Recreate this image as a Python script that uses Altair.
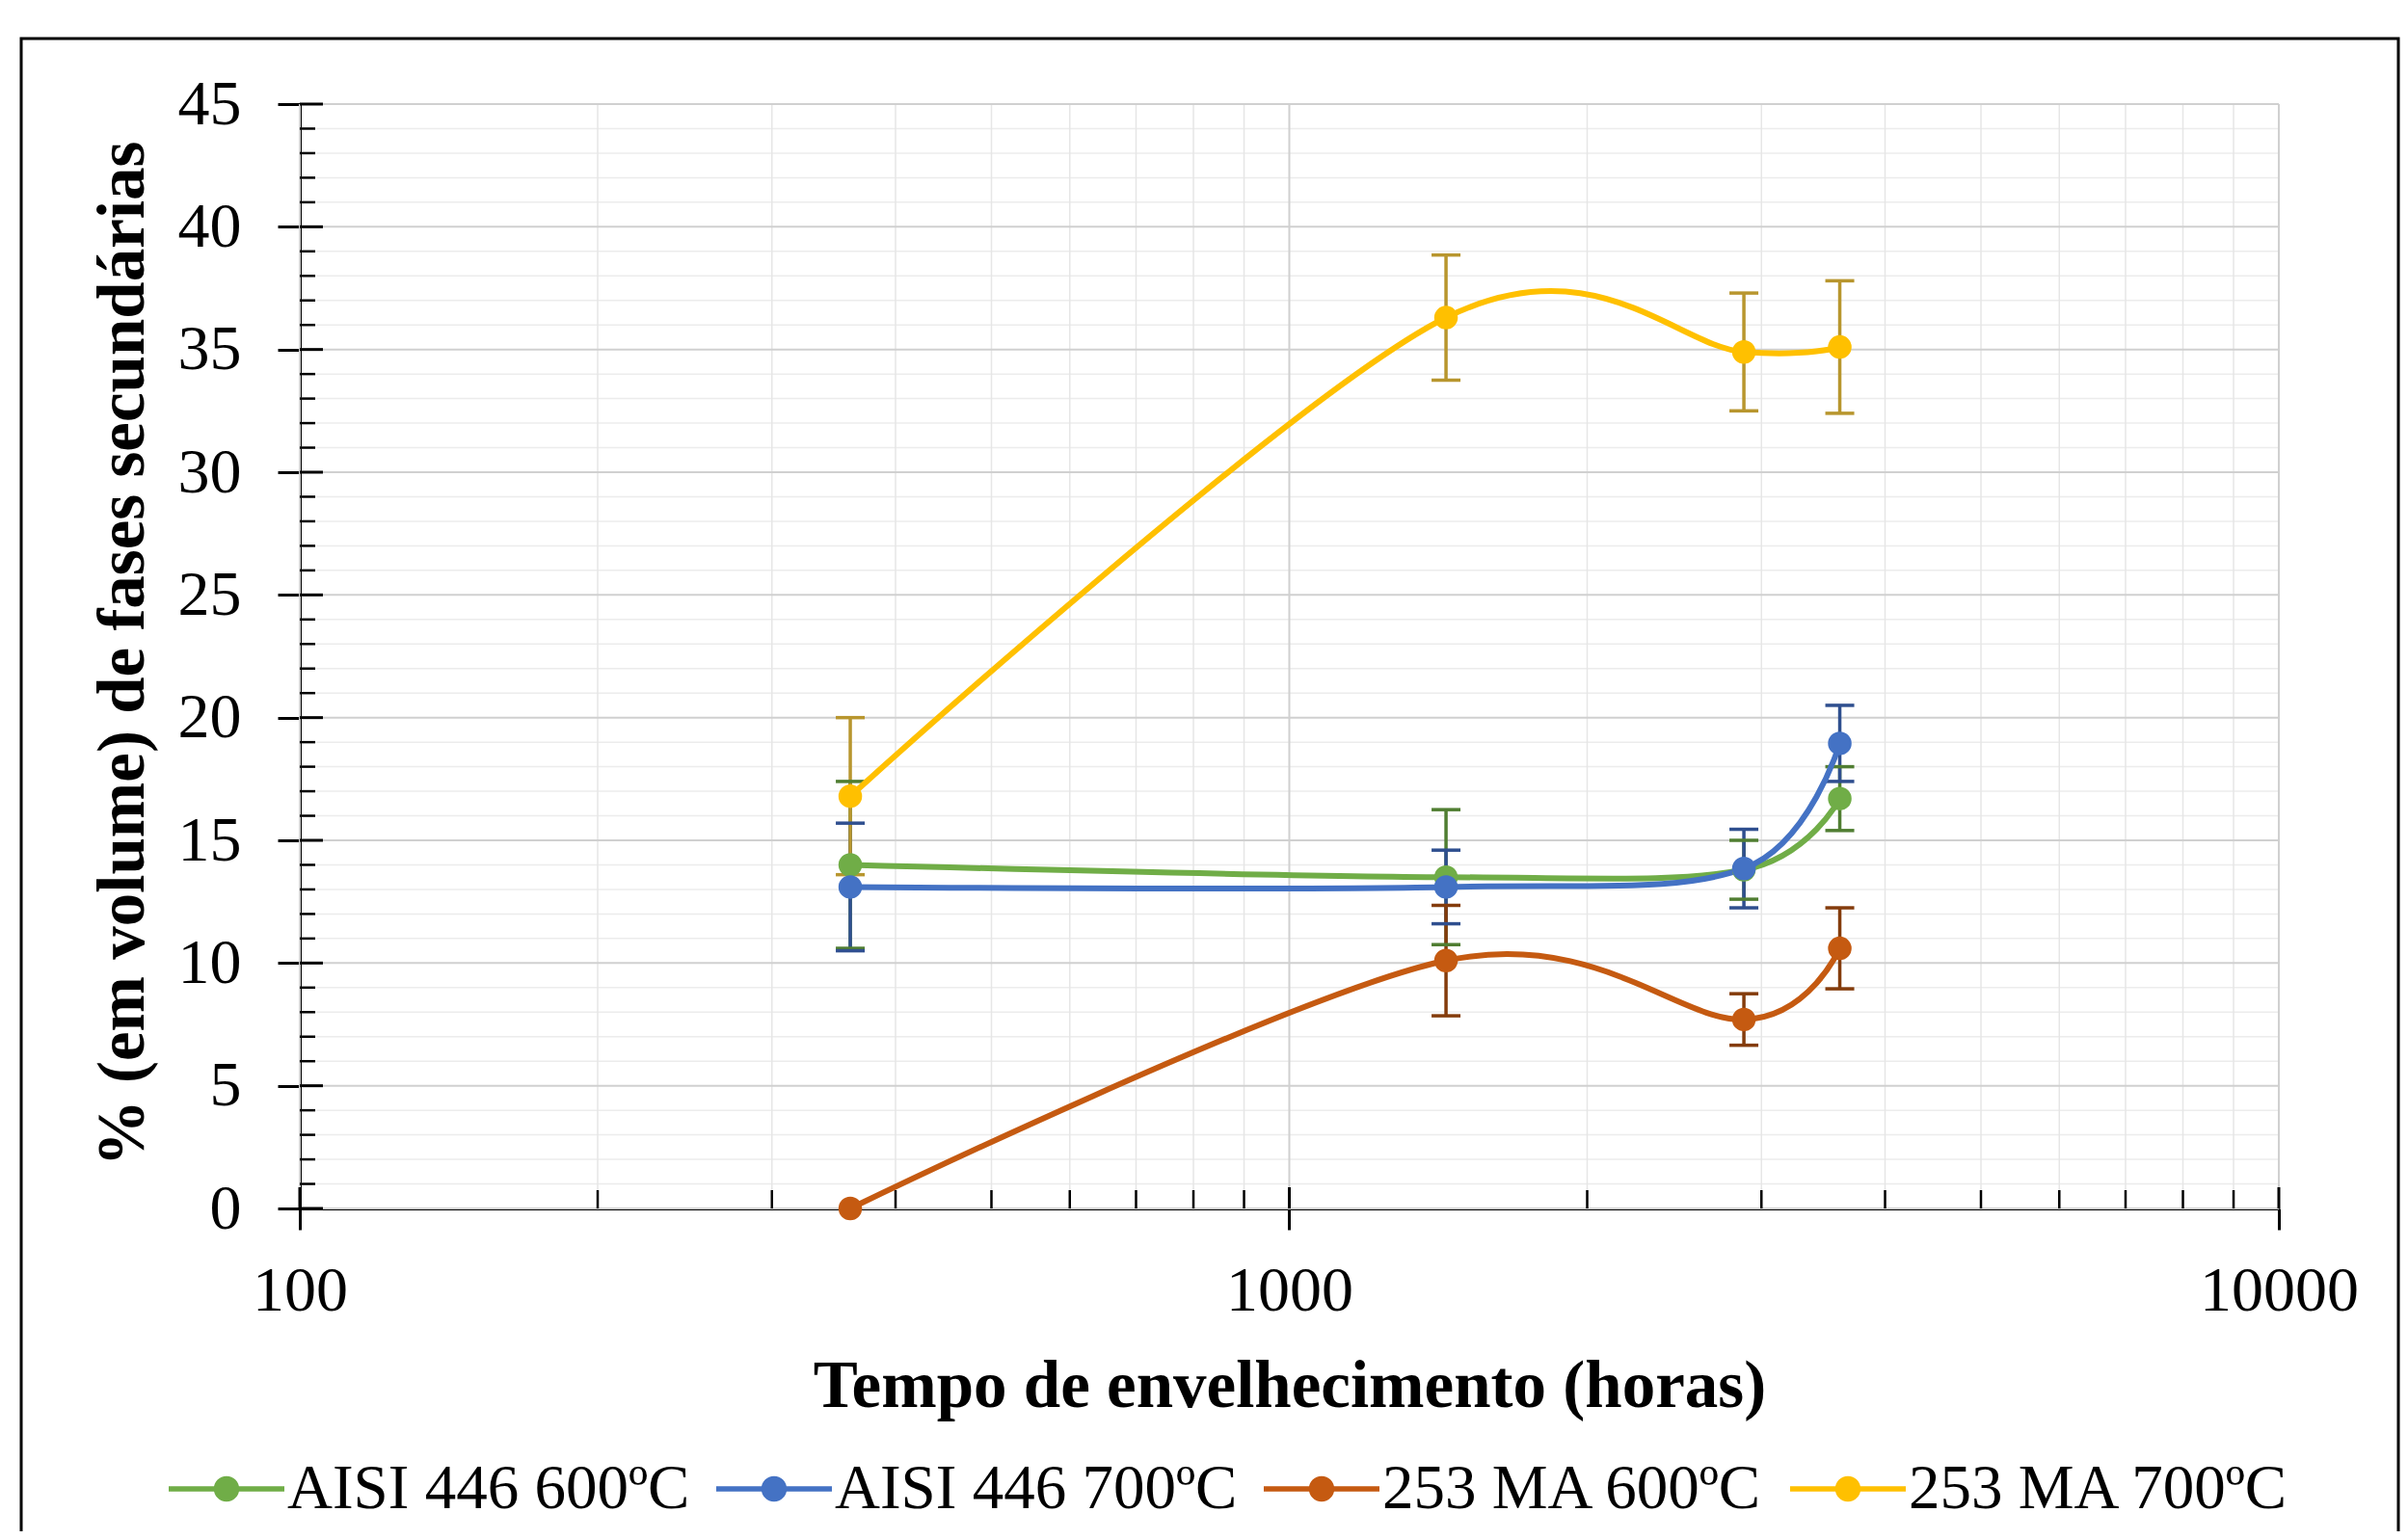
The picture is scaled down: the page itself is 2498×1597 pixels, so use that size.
import altair as alt
import pandas as pd

# ---------------- data ----------------
series = ["AISI 446 600ºC", "AISI 446 700ºC", "253 MA 600ºC", "253 MA 700ºC"]
hours = [360, 1440, 2880, 3600]

aisi446_600 = [14.0, 13.5, 13.8, 16.7]
aisi446_600_err = [3.4, 2.75, 1.2, 1.3]
aisi446_700 = [13.1, 13.1, 13.85, 18.95]
aisi446_700_err = [2.6, 1.5, 1.6, 1.55]
ma253_600 = [0.0, 10.1, 7.7, 10.6]
ma253_600_err = [0.0, 2.25, 1.05, 1.65]
ma253_700 = [16.8, 36.3, 34.9, 35.1]
ma253_700_err = [3.2, 2.55, 2.4, 2.7]

colors = ["#70AD47", "#4472C4", "#C55A11", "#FFC000"]
err_colors = ["#507E32", "#2F4F8F", "#843C0C", "#B8962E"]

x_major = [100, 1000, 10000]
x_minor = [200, 300, 400, 500, 600, 700, 800, 900,
           2000, 3000, 4000, 5000, 6000, 7000, 8000, 9000]
y_major = [0, 5, 10, 15, 20, 25, 30, 35, 40, 45]
y_minor = [v for v in range(1, 45) if v % 5 != 0]

values = [aisi446_600, aisi446_700, ma253_600, ma253_700]
errors = [aisi446_600_err, aisi446_700_err, ma253_600_err, ma253_700_err]

rows = []
for s, vals, errs, ec in zip(series, values, errors, err_colors):
    for h, v, e in zip(hours, vals, errs):
        rows.append({"horas": h, "valor": v, "serie": s, "lo": v - e, "hi": v + e,
                     "err": e, "ecolor": ec})
df = pd.DataFrame(rows)
err_df = df[df["err"] > 0]

# ---------------- layout ----------------
W, H = 2053, 1146
FONT = "Liberation Serif"

xscale = alt.Scale(type="log", domain=[100, 10000])
yscale = alt.Scale(domain=[0, 45], nice=False, zero=False)
cscale = alt.Scale(domain=series, range=colors)

legend_path = ("M-1,-0.045L1,-0.045L1,0.045L-1,0.045Z "
               "M0.22,0A0.22,0.22,0,1,1,-0.22,0A0.22,0.22,0,1,1,0.22,0Z")

x_axis = alt.Axis(
    values=x_major, format="d", title="Tempo de envelhecimento (horas)", grid=False,
    domainColor="black", domainWidth=3, tickColor="black", tickWidth=3, tickSize=22,
    labelPadding=31, labelFont=FONT, labelFontSize=66, labelColor="black",
    labelFlush=False, labelOverlap=False,
    titleFont=FONT, titleFontSize=69, titleFontWeight="bold", titleColor="black",
    titleX=W / 2, titleY=205, titleBaseline="alphabetic", titleAlign="center",
)
y_axis = alt.Axis(
    values=y_major, title="% (em volume) de fases secundárias", grid=False,
    domainColor="black", domainWidth=3, tickColor="black", tickWidth=3, tickSize=23,
    labelPadding=38, labelFont=FONT, labelFontSize=66, labelColor="black",
    labelFlush=False, labelOverlap=False,
    titleFont=FONT, titleFontSize=69, titleFontWeight="bold", titleColor="black",
    titleX=-163, titleY=570, titleAngle=270, titleAlign="center",
    titleBaseline="alphabetic",
)
legend = alt.Legend(
    orient="none", legendX=-136, legendY=1377, direction="horizontal",
    columns=4, title=None, symbolType=legend_path, symbolSize=14400,
    symbolStrokeWidth=0, symbolOpacity=1, labelFont=FONT, labelFontSize=65,
    labelColor="black", labelOffset=3, columnPadding=27, padding=0,
    labelLimit=1000,
)


def X(field):
    return alt.X(field, scale=xscale, axis=x_axis)


def Y(field):
    return alt.Y(field, scale=yscale, axis=y_axis)


border = alt.Chart(pd.DataFrame({"a": [0]})).mark_rect(
    filled=False, stroke="black", strokeWidth=3
).encode(x=alt.value(-289), x2=alt.value(2177), y=alt.value(-68), y2=alt.value(1500))

grid_y_minor = alt.Chart(pd.DataFrame({"y": y_minor})).mark_rule(
    color="#ececec", strokeWidth=1.5
).encode(y=Y("y:Q"))

grid_x_minor = alt.Chart(pd.DataFrame({"x": x_minor})).mark_rule(
    color="#e6e6e6", strokeWidth=1.5
).encode(x=X("x:Q"))

grid_y_major = alt.Chart(pd.DataFrame({"y": y_major})).mark_rule(
    color="#d0d0d0", strokeWidth=2
).encode(y=Y("y:Q"))

grid_x_major = alt.Chart(pd.DataFrame({"x": x_major})).mark_rule(
    color="#d0d0d0", strokeWidth=2
).encode(x=X("x:Q"))

tick_y_major = alt.Chart(pd.DataFrame({"y": y_major})).mark_rule(
    color="black", strokeWidth=3
).encode(y=Y("y:Q"), x=alt.value(0), x2=alt.value(24))

tick_y_minor = alt.Chart(pd.DataFrame({"y": y_minor})).mark_rule(
    color="black", strokeWidth=2.5
).encode(y=Y("y:Q"), x=alt.value(0), x2=alt.value(16))

tick_x_major = alt.Chart(pd.DataFrame({"x": x_major})).mark_rule(
    color="black", strokeWidth=3
).encode(x=X("x:Q"), y=alt.value(H - 22), y2=alt.value(H))

tick_x_minor = alt.Chart(pd.DataFrame({"x": x_minor})).mark_rule(
    color="black", strokeWidth=2.5
).encode(x=X("x:Q"), y=alt.value(H - 19), y2=alt.value(H))

err_rules = alt.Chart(err_df).mark_rule(strokeWidth=3.5).encode(
    x=X("horas:Q"),
    y=Y("lo:Q"),
    y2="hi:Q",
    stroke=alt.Stroke("ecolor:N", scale=None),
)
cap_lo = alt.Chart(err_df).mark_point(
    shape="M-1,0L1,0", size=900, filled=False, strokeWidth=3.5, opacity=1
).encode(
    x=X("horas:Q"),
    y=Y("lo:Q"),
    stroke=alt.Stroke("ecolor:N", scale=None),
)
cap_hi = alt.Chart(err_df).mark_point(
    shape="M-1,0L1,0", size=900, filled=False, strokeWidth=3.5, opacity=1
).encode(
    x=X("horas:Q"),
    y=Y("hi:Q"),
    stroke=alt.Stroke("ecolor:N", scale=None),
)

lines = alt.Chart(df).mark_line(interpolate="cardinal", strokeWidth=6).encode(
    x=X("horas:Q"),
    y=Y("valor:Q"),
    color=alt.Color("serie:N", scale=cscale, legend=legend),
)

points = alt.Chart(df).mark_point(filled=True, size=600, opacity=1, shape="circle").encode(
    x=X("horas:Q"),
    y=Y("valor:Q"),
    color=alt.Color("serie:N", scale=cscale, legend=legend),
)

chart = alt.layer(
    border, grid_y_minor, grid_x_minor, grid_y_major, grid_x_major,
    tick_y_major, tick_y_minor, tick_x_major, tick_x_minor,
    err_rules, cap_lo, cap_hi, lines, points,
).properties(
    width=W, height=H,
    padding={"left": 303, "top": 100, "right": 126, "bottom": 335},
    autosize=alt.AutoSizeParams(type="none"),
    background="white",
).configure_view(stroke=None)

chart.save("out.html", embed_options={"renderer": "svg", "actions": False})
